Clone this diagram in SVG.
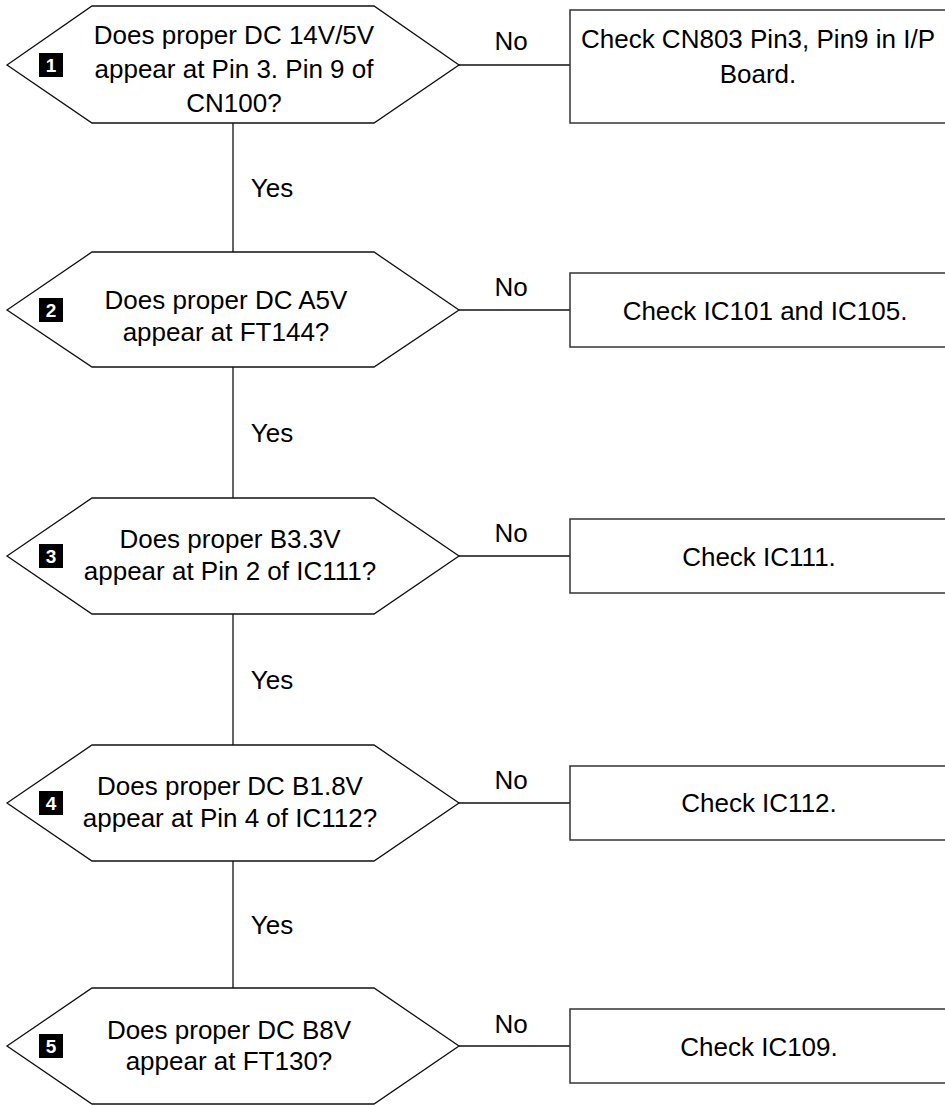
<svg xmlns="http://www.w3.org/2000/svg" width="945" height="1105" viewBox="0 0 945 1105">
<style>
.hex{fill:#fff;stroke:#111;stroke-width:1.3}
.box{fill:#fff;stroke:#333;stroke-width:1.5}
.ln{stroke:#111;stroke-width:1.3;fill:none}
.t{font-family:"Liberation Sans",Arial,sans-serif;font-size:26px;fill:#000;text-anchor:middle}
.badge{fill:#000}
.bn{font-family:"Liberation Sans",Arial,sans-serif;font-size:19px;font-weight:bold;fill:#fff;text-anchor:middle}
</style>
<g id="connectors">
<line class="ln" x1="233" y1="123" x2="233" y2="252"/>
<line class="ln" x1="233" y1="367" x2="233" y2="498"/>
<line class="ln" x1="233" y1="614" x2="233" y2="745"/>
<line class="ln" x1="233" y1="861" x2="233" y2="988"/>
<line class="ln" x1="459" y1="65" x2="570" y2="65"/>
<line class="ln" x1="459" y1="310" x2="570" y2="310"/>
<line class="ln" x1="459" y1="556" x2="570" y2="556"/>
<line class="ln" x1="459" y1="803" x2="570" y2="803"/>
<line class="ln" x1="459" y1="1046" x2="570" y2="1046"/>
<text class="t" x="272" y="197">Yes</text>
<text class="t" x="272" y="442">Yes</text>
<text class="t" x="272" y="689">Yes</text>
<text class="t" x="272" y="934">Yes</text>
<text class="t" x="511" y="50">No</text>
<text class="t" x="511" y="296">No</text>
<text class="t" x="511" y="542">No</text>
<text class="t" x="511" y="789">No</text>
<text class="t" x="511" y="1033">No</text>
</g>
<g id="q1">
<polygon class="hex" points="7,65 92,6 374,6 459,65 374,123 92,123"/>
<rect class="badge" x="39" y="53" width="24" height="24"/>
<text class="bn" x="51" y="72">1</text>
<text class="t" x="234" y="44">Does proper DC 14V/5V</text>
<text class="t" x="234" y="78">appear at Pin 3. Pin 9 of</text>
<text class="t" x="234" y="112">CN100?</text>
</g>
<g id="a1">
<rect class="box" x="570" y="10" width="390" height="113"/>
<text class="t" x="758" y="48">Check CN803 Pin3, Pin9 in I/P</text>
<text class="t" x="758" y="83">Board.</text>
</g>
<g id="q2">
<polygon class="hex" points="7,310 92,252 374,252 459,310 374,367 92,367"/>
<rect class="badge" x="39" y="298" width="24" height="24"/>
<text class="bn" x="51" y="317">2</text>
<text class="t" x="226" y="309">Does proper DC A5V</text>
<text class="t" x="226" y="341">appear at FT144?</text>
</g>
<g id="a2">
<rect class="box" x="570" y="273" width="390" height="74"/>
<text class="t" x="765" y="320">Check IC101 and IC105.</text>
</g>
<g id="q3">
<polygon class="hex" points="7,556 92,498 374,498 459,556 374,614 92,614"/>
<rect class="badge" x="39" y="544" width="24" height="24"/>
<text class="bn" x="51" y="563">3</text>
<text class="t" x="230" y="548">Does proper B3.3V</text>
<text class="t" x="230" y="580">appear at Pin 2 of IC111?</text>
</g>
<g id="a3">
<rect class="box" x="570" y="519" width="390" height="74"/>
<text class="t" x="759" y="566">Check IC111.</text>
</g>
<g id="q4">
<polygon class="hex" points="7,803 92,745 374,745 459,803 374,861 92,861"/>
<rect class="badge" x="39" y="791" width="24" height="24"/>
<text class="bn" x="51" y="810">4</text>
<text class="t" x="230" y="795">Does proper DC B1.8V</text>
<text class="t" x="230" y="827">appear at Pin 4 of IC112?</text>
</g>
<g id="a4">
<rect class="box" x="570" y="766" width="390" height="74"/>
<text class="t" x="759" y="812">Check IC112.</text>
</g>
<g id="q5">
<polygon class="hex" points="7,1046 92,988 374,988 459,1046 374,1104 92,1104"/>
<rect class="badge" x="39" y="1034" width="24" height="24"/>
<text class="bn" x="51" y="1053">5</text>
<text class="t" x="229" y="1039">Does proper DC B8V</text>
<text class="t" x="229" y="1070">appear at FT130?</text>
</g>
<g id="a5">
<rect class="box" x="570" y="1009" width="390" height="74"/>
<text class="t" x="759" y="1056">Check IC109.</text>
</g>
</svg>
